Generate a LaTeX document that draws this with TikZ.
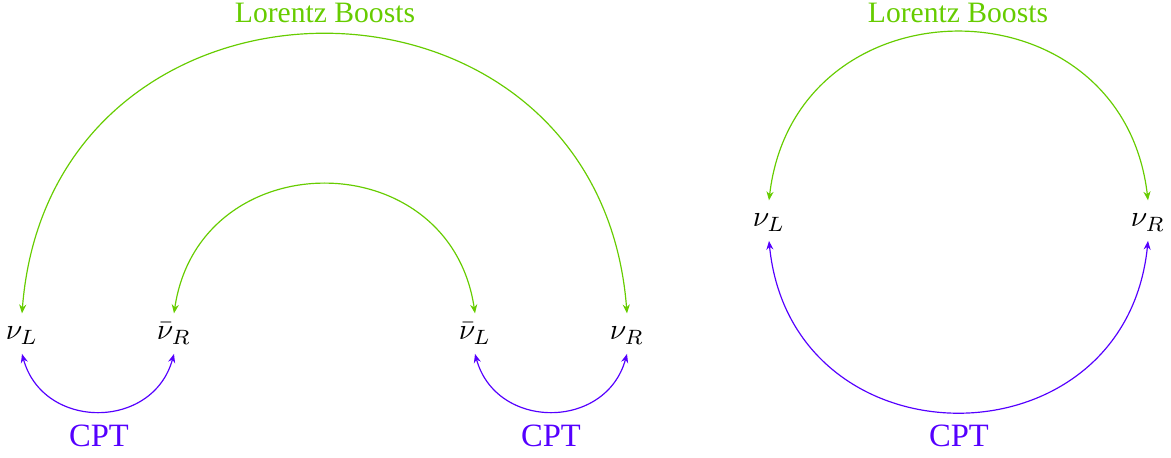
\documentclass[tikz,border=0pt]{standalone}
\usepackage{fontspec}
\setmainfont{Liberation Serif}
\usetikzlibrary{arrows.meta}
\definecolor{lgreen}{RGB}{102,204,0}
\definecolor{cptblue}{RGB}{85,0,255}
\begin{document}
\begin{tikzpicture}[x=0.33784pt,y=0.33784pt,
  part/.style={inner xsep=2pt, inner ysep=3.3pt, text height=5.5pt, text depth=1.2pt, anchor=base, font=\fontsize{10}{12}\selectfont},
  tipa/.style={arrows={Stealth[length=3pt,width=2.4pt]-Stealth[length=3pt,width=2.4pt]}},
  boost/.style={draw=lgreen, line width=0.4pt, tipa},
  cptarrow/.style={draw=cptblue, line width=0.4pt, tipa},
  blab/.style={text=lgreen, anchor=base, inner sep=0pt, font=\fontsize{10}{12}\selectfont},
  clab/.style={text=cptblue, anchor=base, inner sep=0pt, font=\fontsize{11}{13}\selectfont}]
\useasboundingbox (0,0) rectangle (1171,-458);
% left group
\node[part] (a1) at (22,-340) {$\nu_L$};
\node[part] (a2) at (174,-340) {$\bar\nu_R$};
\node[part] (a3) at (475,-340) {$\bar\nu_L$};
\node[part] (a4) at (627,-340) {$\nu_R$};
% right group
\node[part] (b1) at (769,-227) {$\nu_L$};
\node[part] (b2) at (1148,-227) {$\nu_R$};
% Lorentz boosts
\draw[boost] (a1.north) to[out=85.6,in=94.4,looseness=1.58] (a4.north);
\draw[boost] (a2.north) to[out=81.6,in=98.4,looseness=1.48] (a3.north);
\draw[boost] (b1.north) to[out=83.4,in=96.6,looseness=1.525] (b2.north);
% CPT
\draw[cptarrow] (a1.south) to[out=-74.6,in=-105.4,looseness=1.34] (a2.south);
\draw[cptarrow] (a3.south) to[out=-74.6,in=-105.4,looseness=1.34] (a4.south);
\draw[cptarrow] (b1.south) to[out=-84.3,in=-95.7,looseness=1.55] (b2.south);
% labels
\node[blab] (lb1) at (325,-23) {Lorentz Boosts};
\node[blab] (lb2) at (958,-23) {Lorentz Boosts};
\node[clab] (c1) at (99,-447) {CPT};
\node[clab] (c2) at (551,-447) {CPT};
\node[clab] (c3) at (959,-447) {CPT};
\end{tikzpicture}
\end{document}
